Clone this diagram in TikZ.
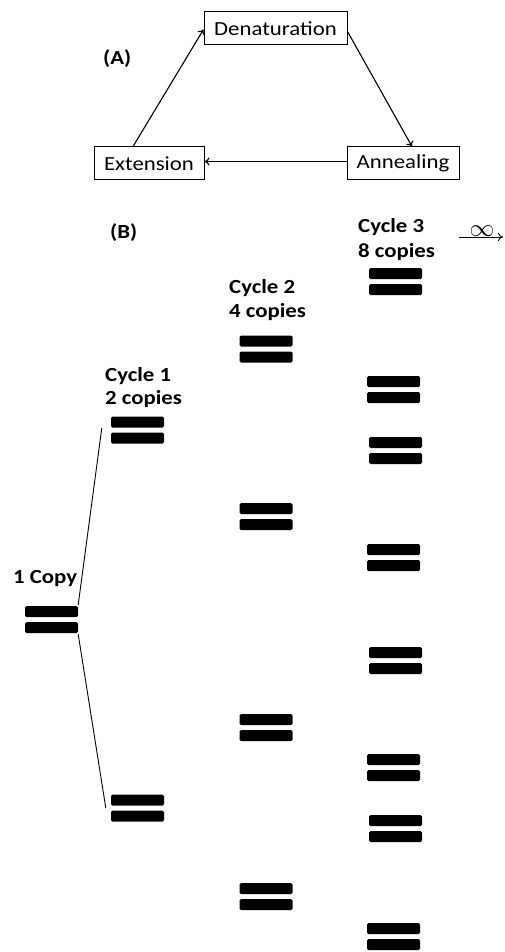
\documentclass[tikz,border=0pt]{standalone}
\usepackage{fontspec}
\setmainfont{Carlito}
\usetikzlibrary{arrows.meta}
\newcommand\sx[1]{\scalebox{1.14}[1]{#1}}
\tikzset{
  stepbox/.style={draw, line width=1pt, minimum height=33pt, inner sep=0pt,
    font=\fontsize{20}{24}\selectfont},
  lbl/.style={anchor=base west, inner sep=0pt, font=\fontsize{20}{24}\selectfont\bfseries},
  conn/.style={line width=1.1pt, -{To[length=5pt,width=8pt]}},
  pair/.style={minimum width=53pt, minimum height=27pt, inner sep=0pt,
    path picture={
      \fill[rounded corners=1.5pt] (path picture bounding box.north west) rectangle ([yshift=-11pt]path picture bounding box.north east);
      \fill[rounded corners=1.5pt] ([yshift=11pt]path picture bounding box.south west) rectangle (path picture bounding box.south east);
    }},
  branch/.style={line width=0.9pt}
}
\begin{document}
\begin{tikzpicture}[x=1pt,y=-1pt]
\useasboundingbox (0,0) rectangle (505,952);
% (A) cycle
\node[stepbox, minimum width=143pt] (den) at (275.5,28.5) {\sx{Denaturation}};
\node[stepbox, minimum width=110pt] (ext) at (149,163.5) {\sx{Extension}};
\node[stepbox, minimum width=112pt] (ann) at (403,163.5) {\sx{Annealing}};
\node[lbl] (A) at (103,65) {\sx{(A)}};
\draw[conn] ([xshift=-16pt]ext.north) -- ([yshift=-1pt]den.west);
\draw[conn] ([yshift=-3pt]den.east) -- ([xshift=9pt]ann.north);
\draw[conn] ([yshift=2pt]ann.west) -- ([yshift=2pt]ext.east);
% (B) labels
\node[lbl] (B) at (110,238) {\sx{(B)}};
\node[lbl] (c3l1) at (358,232) {\sx{Cycle 3}};
\node[lbl] (c3l2) at (358,257) {\sx{8 copies}};
\node[lbl] (c2l1) at (229,293) {\sx{Cycle 2}};
\node[lbl] (c2l2) at (229,317) {\sx{4 copies}};
\node[lbl] (c1l1) at (105,381) {\sx{Cycle 1}};
\node[lbl] (c1l2) at (105,404) {\sx{2 copies}};
\node[lbl] (cpl) at (13,583) {\sx{1 Copy}};
% infinity arrow
\coordinate (ia) at (459,237);
\coordinate (ib) at (503,237);
\draw[line width=0.9pt, -{To[length=5pt,width=8pt]}] (ia) -- (ib) node[midway, above=0pt, inner sep=0.5pt, xshift=1pt, font=\fontsize{26}{30}\selectfont] (inf) {$\infty$};
% pairs
\node[pair] (cp) at (51.5,619.5) {};
\node[pair] (c1a) at (137.5,430) {};
\node[pair] (c1b) at (137.5,808) {};
\node[pair] (c2a) at (266,349) {};
\node[pair] (c2b) at (266,516.5) {};
\node[pair] (c2c) at (266,727.5) {};
\node[pair] (c2d) at (266,896.5) {};
\node[pair] (c3a) at (395.5,281.5) {};
\node[pair] (c3b) at (393.5,389.5) {};
\node[pair] (c3c) at (395.5,450.5) {};
\node[pair] (c3d) at (393.5,557.5) {};
\node[pair] (c3e) at (395.5,660.5) {};
\node[pair] (c3f) at (393.5,767.5) {};
\node[pair] (c3g) at (395.5,828.5) {};
\node[pair] (c3h) at (393.5,936.5) {};
% branches
\draw[branch] ([yshift=1pt]cp.north east) -- ([xshift=-9pt,yshift=2pt]c1a.west);
\draw[branch] ([yshift=-1pt]cp.south east) -- ([xshift=-5pt]c1b.west);
\end{tikzpicture}
\end{document}
